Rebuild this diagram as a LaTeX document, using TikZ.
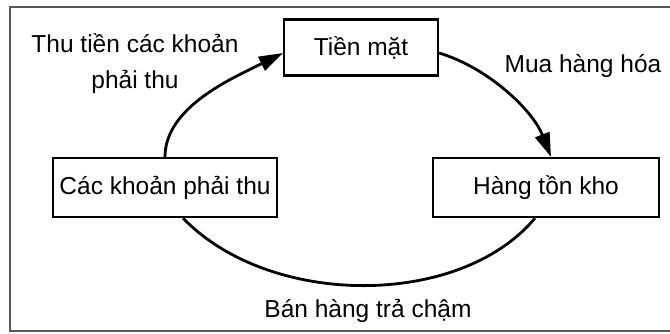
\documentclass[tikz,border=0pt]{standalone}
\usepackage{fontspec}
\setmainfont{Liberation Sans}
\usetikzlibrary{arrows.meta}
\begin{document}
\begin{tikzpicture}[x=1pt,y=-1pt,
  font=\fontsize{24.5}{36}\selectfont,
  box/.style={draw, line width=2.2pt, inner sep=0pt, minimum height=56pt},
  flow/.style={line width=2.8pt},
  lbl/.style={inner sep=0pt, anchor=base, align=center},
  frameline/.style={draw=black!65, line width=1.1pt}]
\useasboundingbox (0,0) rectangle (670,333);
% outer frame (no right side)
\coordinate (fa) at (670,7);
\coordinate (fb) at (10,7);
\coordinate (fc) at (10,331);
\coordinate (fd) at (670,331);
\draw[frameline] (fa) -- (fb) -- (fc) -- (fd);
% boxes
\node[box, minimum width=154pt] (tm) at (361,47.5) {Tiền mặt};
\node[box, minimum width=226pt, minimum height=59pt] (htk) at (546,187.5) {Hàng tồn kho};
\node[box, minimum width=224pt, minimum height=59pt] (ckpt) at (165,187.5) {Các khoản phải thu};
% labels
\node[lbl] (l1) at (135,88) {Thu tiền các khoản\\phải thu};
\node[lbl] (l2) at (583,72) {Mua hàng hóa};
\node[lbl] (l3) at (368,317) {Bán hàng trả chậm};
% connectors
\draw[flow, -{Triangle[length=24pt,width=15pt]}] (ckpt.north) .. controls +(0,-50) and +(-50,25) .. ([yshift=-5.5pt]tm.west);
\draw[flow, -{Triangle[length=24pt,width=15pt]}] ([yshift=-5.5pt]tm.east) .. controls +(50,15) and +(-18,-46) .. ([xshift=5pt]htk.north);
\draw[flow] ([xshift=18pt]ckpt.south) .. controls +(87,90) and +(-75,90) .. ([xshift=-11pt]htk.south);
\end{tikzpicture}
\end{document}
